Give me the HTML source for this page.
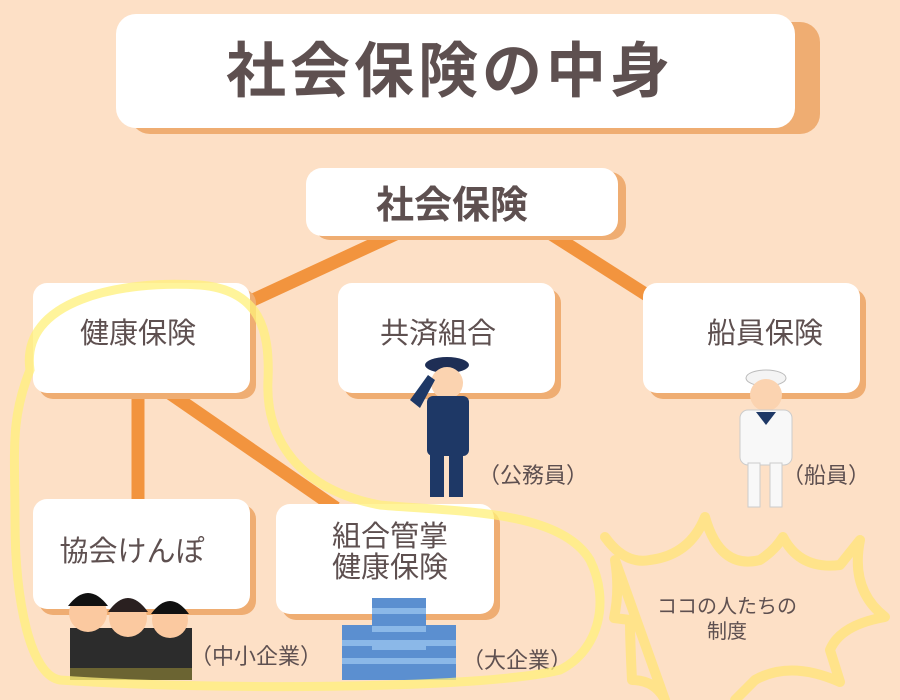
<!DOCTYPE html>
<html><head><meta charset="utf-8"><style>
html,body{margin:0;padding:0;background:#fde0c6;}
svg{display:block}
text{font-family:"Liberation Sans","Noto Sans CJK JP",sans-serif;fill:#5e5050}
</style></head><body>
<svg width="900" height="700" viewBox="0 0 900 700">
<rect width="900" height="700" fill="#fde0c6"/>
<g stroke="#f2943e" stroke-width="13">
<line x1="240" y1="306" x2="400" y2="232"/>
<line x1="548" y1="232" x2="650" y2="297"/>
<line x1="138" y1="390" x2="138" y2="502"/>
<line x1="168" y1="392" x2="336" y2="508"/>
</g>
<rect x="130" y="22" width="690" height="112" rx="20" fill="#efad72"/>
<rect x="116" y="14" width="679" height="114" rx="20" fill="#fff"/>
<text x="450" y="92" font-size="60" font-weight="bold" text-anchor="middle" letter-spacing="4" fill="#5e5050">社会保険の中身</text>
<rect x="314" y="172" width="312" height="68" rx="16" fill="#efad72"/>
<rect x="306" y="168" width="312" height="68" rx="16" fill="#fff"/>
<text x="452" y="218" font-size="38" font-weight="bold" text-anchor="middle">社会保険</text>
<g fill="#efad72">
<rect x="39" y="289" width="217" height="110" rx="14"/>
<rect x="344" y="289" width="217" height="110" rx="14"/>
<rect x="649" y="289" width="217" height="110" rx="14"/>
<rect x="39" y="505" width="217" height="110" rx="14"/>
<rect x="282" y="510" width="218" height="110" rx="14"/>
</g>
<g fill="#fff">
<rect x="33" y="283" width="217" height="110" rx="14"/>
<rect x="338" y="283" width="217" height="110" rx="14"/>
<rect x="643" y="283" width="217" height="110" rx="14"/>
<rect x="33" y="499" width="217" height="110" rx="14"/>
<rect x="276" y="504" width="218" height="110" rx="14"/>
</g>
<g font-size="29" text-anchor="middle">
<text x="138" y="343">健康保険</text>
<text x="438" y="343">共済組合</text>
<text x="765" y="343">船員保険</text>
<text x="132" y="561">協会けんぽ</text>
<text x="390" y="546">組合管掌</text>
<text x="390" y="577">健康保険</text>
</g>
<g font-size="22">
<text x="478" y="483">（公務員）</text>
<text x="782" y="483">（船員）</text>
<text x="190" y="664">（中小企業）</text>
<text x="462" y="668">（大企業）</text>
</g>
<text x="727" y="613" font-size="20" text-anchor="middle">ココの人たちの</text>
<text x="727" y="638" font-size="20" text-anchor="middle">制度</text>
<g>
<ellipse cx="447" cy="365" rx="22" ry="8" fill="#1e2e55"/>
<circle cx="447" cy="383" r="16" fill="#fbd3b0"/>
<rect x="427" y="396" width="42" height="60" rx="6" fill="#1e3866"/>
<rect x="430" y="455" width="14" height="42" fill="#1e3866"/><rect x="449" y="455" width="14" height="42" fill="#1e3866"/>
<path d="M410 400 L428 375 L435 380 L420 408Z" fill="#1e3866"/>
</g>
<g>
<ellipse cx="766" cy="378" rx="20" ry="8" fill="#f4f4f4" stroke="#bbb"/>
<circle cx="766" cy="395" r="16" fill="#fbd3b0"/>
<rect x="740" y="410" width="52" height="55" rx="8" fill="#f8f8f8" stroke="#ccc"/>
<path d="M756 412 L766 425 L776 412Z" fill="#1e3866"/>
<rect x="748" y="463" width="12" height="44" fill="#f8f8f8" stroke="#ccc"/><rect x="770" y="463" width="12" height="44" fill="#f8f8f8" stroke="#ccc"/>
</g>
<g>
<rect x="70" y="628" width="122" height="50" fill="#2c2c2c"/>
<circle cx="88" cy="613" r="19" fill="#fbc9a0"/><path d="M68 606 Q88 580 108 606Z" fill="#111"/>
<circle cx="128" cy="618" r="19" fill="#fbc9a0"/><path d="M108 612 Q128 584 148 612Z" fill="#2a2020"/>
<circle cx="170" cy="620" r="18" fill="#fbc9a0"/><path d="M151 614 Q170 588 189 614Z" fill="#111"/>
<rect x="70" y="668" width="122" height="12" fill="#6b6432"/>
</g>
<g fill="#5b8fd0">
<rect x="372" y="598" width="54" height="82"/>
<rect x="342" y="625" width="30" height="55"/><rect x="426" y="625" width="30" height="55"/>
</g>
<g fill="#8bb8e8"><rect x="372" y="608" width="54" height="6"/><rect x="372" y="626" width="54" height="6"/><rect x="372" y="644" width="54" height="6"/><rect x="342" y="640" width="114" height="6"/><rect x="342" y="658" width="114" height="6"/></g>
<path d="M30 370 C20 300 120 280 200 285 C260 290 270 330 268 380 C265 440 300 490 380 505 C460 512 560 510 590 560 C610 600 600 650 560 670 C480 690 200 690 60 680 C30 675 15 600 15 520 C15 450 10 420 30 370Z" fill="none" stroke="#fff07a" stroke-opacity="0.75" stroke-width="9"/>
<path d="M605 537 Q625 565 650 560 Q690 555 705 517 Q720 570 760 560 Q775 550 783 537 Q800 570 840 565 L860 540 Q850 590 885 617 Q840 625 830 650 L840 682 Q790 660 755 680 L735 700 M665 700 Q655 680 632 680 Q630 640 630 620 L614 618 Q620 590 615 560 Z" fill="none" stroke="#ffe38a" stroke-width="10" stroke-linejoin="round" stroke-linecap="round"/>
</svg>
</body></html>
